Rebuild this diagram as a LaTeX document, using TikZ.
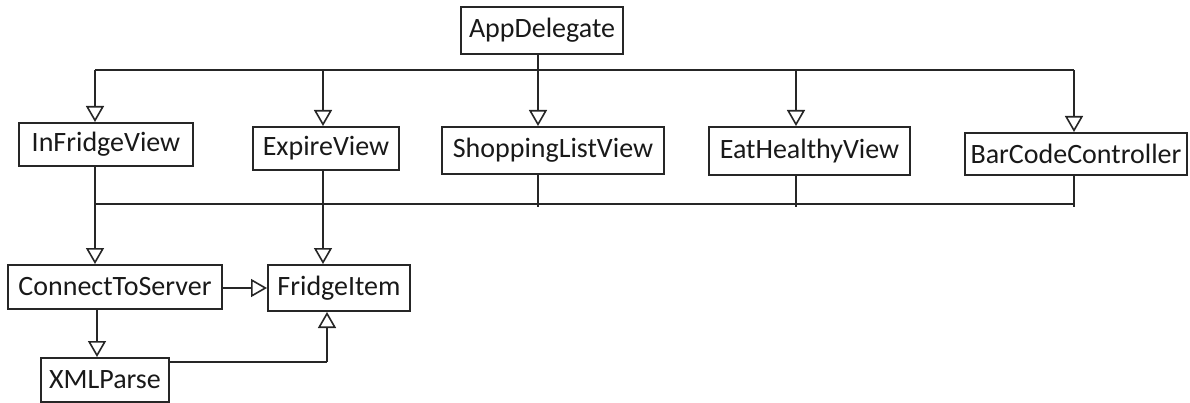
\documentclass[tikz,border=0pt]{standalone}
\usepackage{fontspec}
\setmainfont{Carlito}
\usetikzlibrary{arrows.meta}
\begin{document}
\begin{tikzpicture}[x=1pt,y=1pt,
  line width=2pt,
  cls/.style={draw=black!85, line width=2pt, inner sep=0pt, font=\fontsize{28}{32}\selectfont, text=black!90},
  link/.style={draw=black!85, line width=2pt},
  gen/.style={link, -{Triangle[open,length=16pt,width=18pt,line width=1.6pt]}, fill=none}
]
\useasboundingbox (0,0) rectangle (1190,-403);

% classes
\node[cls, minimum width=162pt, minimum height=47pt] (app)      at (542,-30.5) {AppDelegate};
\node[cls, minimum width=174pt, minimum height=43pt] (infridge) at (106,-144.5) {InFridgeView};
\node[cls, minimum width=146pt, minimum height=43pt] (expire)   at (326,-148.5) {ExpireView};
\node[cls, minimum width=222pt, minimum height=47pt] (shop)     at (553,-150.5) {ShoppingListView};
\node[cls, minimum width=201pt, minimum height=48pt] (eat)      at (809.5,-151) {EatHealthyView};
\node[cls, minimum width=222pt, minimum height=42pt] (bar)      at (1076,-154) {BarCodeController};
\node[cls, minimum width=214pt, minimum height=44pt] (cts)      at (115,-287) {ConnectToServer};
\node[cls, minimum width=142pt, minimum height=46pt] (item)     at (339,-288) {FridgeItem};
\node[cls, minimum width=128pt, minimum height=44pt] (xml)      at (105,-380) {XMLParse};

% upper bus
\coordinate (ua) at (95,-70);
\coordinate (ub) at (323,-70);
\coordinate (uc) at (538,-70);
\coordinate (ud) at (796,-70);
\coordinate (ue) at (1074,-70);
\draw[link] (ua) -- (ue);
\draw[link] (app.south -| uc) -- (uc);
\draw[gen] (ua) -- (infridge.north -| ua);
\draw[gen] (ub) -- (expire.north -| ub);
\draw[gen] (uc) -- (shop.north -| uc);
\draw[gen] (ud) -- (eat.north -| ud);
\draw[gen] (ue) -- (bar.north -| ue);

% lower bus
\coordinate (la) at (95,-204);
\coordinate (lc) at (538,-207);
\coordinate (ld) at (796,-207);
\coordinate (le) at (1074,-207);
\draw[link] (la) -- (1074,-204);
\draw[link] (shop.south -| lc) -- (lc);
\draw[link] (eat.south -| ld) -- (ld);
\draw[link] (bar.south -| le) -- (le);

% into ConnectToServer and FridgeItem
\draw[gen] (infridge.south -| la) -- (cts.north -| la);
\draw[gen] (expire.south -| ub) -- (item.north -| ub);
\draw[gen] (item.west -| cts.east) -- (item.west);

% XMLParse
\coordinate (xs) at (97,0);
\draw[gen] (cts.south -| xs) -- (xml.north -| xs);
\coordinate (xb) at (327,-362);
\draw[link] (xml.east |- xb) -- (xb);
\draw[gen] (xb) -- (item.south -| xb);
\end{tikzpicture}
\end{document}
